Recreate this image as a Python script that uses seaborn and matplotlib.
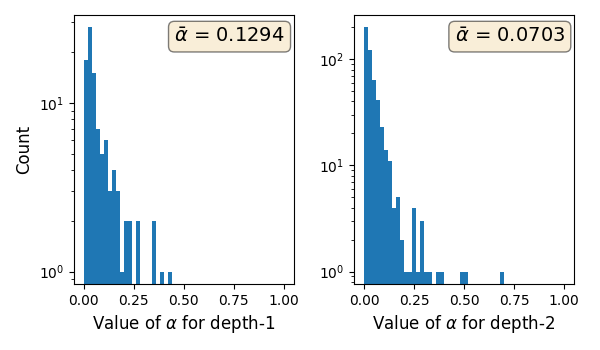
import numpy as np
import pandas as pd
import matplotlib
matplotlib.use("Agg")
import matplotlib.pyplot as plt
import seaborn as sns

# Histogram counts per bin (50 bins over [0, 1])
n_bins = 50
counts_depth1 = [18, 28, 15, 7, 5, 6, 3, 4, 3, 1, 2, 2, 0, 2, 0, 0, 0, 2, 0, 1, 0, 1] + [0] * 28
counts_depth2 = [200, 122, 64, 41, 23, 14, 11, 4, 5, 2, 1, 1, 4, 1, 3, 1, 1, 0, 1, 1,
                 0, 0, 0, 0, 1, 1, 0, 0, 0, 0, 0, 0, 0, 0, 1] + [0] * 15
mean_labels = ["0.1294", "0.0703"]
xlabels = [r"Value of $\alpha$ for depth-1", r"Value of $\alpha$ for depth-2"]

edges = np.linspace(0, 1, n_bins + 1)
centers = (edges[:-1] + edges[1:]) / 2

fig, axes = plt.subplots(1, 2, figsize=(6, 3.5), dpi=100)
fig.subplots_adjust(left=0.123, right=0.957, bottom=0.189, top=0.957, wspace=0.273)

for ax, counts, mlab, xl in zip(axes, [counts_depth1, counts_depth2], mean_labels, xlabels):
    df = pd.DataFrame({"alpha": centers, "w": counts})
    ax.set_yscale("log")
    sns.histplot(data=df, x="alpha", weights="w", bins=n_bins, binrange=(0, 1),
                 ax=ax, color="#1f77b4", alpha=1, edgecolor="none", linewidth=0)
    ax.set_xlim(-0.05, 1.05)
    ax.set_xticks([0, 0.25, 0.5, 0.75, 1.0])
    ax.set_xticklabels(["0.00", "0.25", "0.50", "0.75", "1.00"])
    ax.set_xlabel(xl, fontsize=12)
    ax.set_ylabel("")
    ax.text(0.958, 0.955, r"$\bar{\alpha}$ = " + mlab, transform=ax.transAxes,
            ha="right", va="top", fontsize=14,
            bbox=dict(boxstyle="round", facecolor="wheat", alpha=0.5))

axes[0].set_ylabel("Count", fontsize=12)

fig.savefig("out.png", dpi=100)
